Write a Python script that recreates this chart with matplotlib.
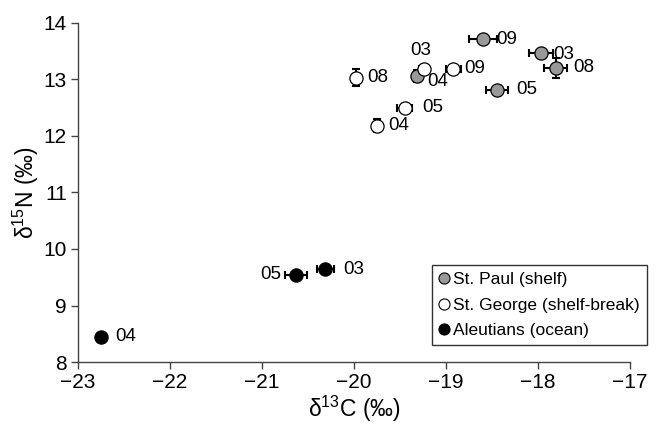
import matplotlib.pyplot as plt
from matplotlib.lines import Line2D

plt.rcParams['font.family'] = ['Liberation Sans', 'DejaVu Sans']

# St. Paul (shelf)
paul_years = ["09", "03", "08", "05", "04"]
paul_c = [-18.60, -17.97, -17.81, -18.45, -19.32]
paul_n = [13.71, 13.46, 13.20, 12.81, 13.06]
paul_cerr = [0.15, 0.13, 0.12, 0.12, 0.03]
paul_nerr = [0.03, 0.03, 0.17, 0.03, 0.10]

# St. George (shelf-break)
george_years = ["03", "09", "05", "04", "08"]
george_c = [-19.24, -18.92, -19.45, -19.75, -19.98]
george_n = [13.19, 13.19, 12.50, 12.18, 13.03]
george_cerr = [0.05, 0.08, 0.08, 0.04, 0.03]
george_nerr = [0.05, 0.03, 0.03, 0.12, 0.15]

# Aleutians (ocean)
aleut_years = ["03", "05", "04"]
aleut_c = [-20.31, -20.63, -22.75]
aleut_n = [9.64, 9.54, 8.45]
aleut_cerr = [0.09, 0.12, 0.0]
aleut_nerr = [0.03, 0.03, 0.0]

fig = plt.figure(figsize=(6.58, 4.28), dpi=100)
ax = fig.add_axes([0.1185, 0.154, 0.839, 0.793])

groups = [
    (paul_c, paul_n, paul_cerr, paul_nerr, paul_years, "#999999"),
    (george_c, george_n, george_cerr, george_nerr, george_years, "white"),
    (aleut_c, aleut_n, aleut_cerr, aleut_nerr, aleut_years, "black"),
]

for c, n, ce, ne, yrs, fc in groups:
    ax.errorbar(c, n, xerr=ce, yerr=ne, fmt="none", ecolor="black",
                elinewidth=1.5, capsize=3, capthick=1.5, zorder=2)
    ax.plot(c, n, "o", ms=9.5, mfc=fc, mec="black", mew=0.9, ls="none", zorder=3)

# label offsets (points)
offsets = {
    ("p", "09"): (10, 0), ("p", "03"): (9, -1), ("p", "08"): (13, 0),
    ("p", "05"): (14, 0), ("p", "04"): (8, -4),
    ("g", "03"): (-2, 13), ("g", "09"): (8, 0), ("g", "05"): (13, 0),
    ("g", "04"): (8, 0), ("g", "08"): (8, 0),
    ("a", "03"): (13, 0), ("a", "05"): (-11, 0), ("a", "04"): (10, 0),
}
for key, (c, n, _, _, yrs, _) in zip("pga", groups):
    for x, y, t in zip(c, n, yrs):
        dx, dy = offsets[(key, t)]
        ha = "right" if dx < 0 else "left"
        if key == "g" and t == "03":
            ha = "center"
        ax.annotate(t, xy=(x, y), xytext=(dx, dy), textcoords="offset points",
                    ha=ha, va="center", fontsize=13.5, zorder=4)

ax.set_xlim(-23, -17)
ax.set_ylim(8, 14)
ax.set_xticks(range(-23, -16))
ax.set_yticks(range(8, 15))
ax.set_xticklabels(["\u2212%d" % abs(v) for v in range(-23, -16)])

ax.spines[["top", "right"]].set_visible(False)
for s in ["left", "bottom"]:
    ax.spines[s].set_color("#444444")
    ax.spines[s].set_linewidth(1.0)
ax.tick_params(direction="out", length=5, width=1.0, color="#444444",
               labelsize=15, pad=3)

ax.set_xlabel(r"$\mathregular{\delta^{13}}$C (‰)", fontsize=16.5, labelpad=1)
ax.set_ylabel(r"$\mathregular{\delta^{15}}$N (‰)", fontsize=16.5, labelpad=2)

handles = [
    Line2D([], [], marker="o", ls="none", ms=8, mfc="#999999", mec="black", mew=0.8),
    Line2D([], [], marker="o", ls="none", ms=8, mfc="white", mec="black", mew=0.8),
    Line2D([], [], marker="o", ls="none", ms=8, mfc="black", mec="black", mew=0.8),
]
leg = ax.legend(handles, ["St. Paul (shelf)", "St. George (shelf-break)", "Aleutians (ocean)"],
                loc="lower right", bbox_to_anchor=(1.03, 0.05), fontsize=12.5,
                frameon=True, fancybox=False, edgecolor="black", handlelength=0.6,
                handletextpad=0.2, borderpad=0.4, labelspacing=0.6, borderaxespad=0)
leg.get_frame().set_linewidth(1.0)

fig.savefig("out.png", dpi=100)
